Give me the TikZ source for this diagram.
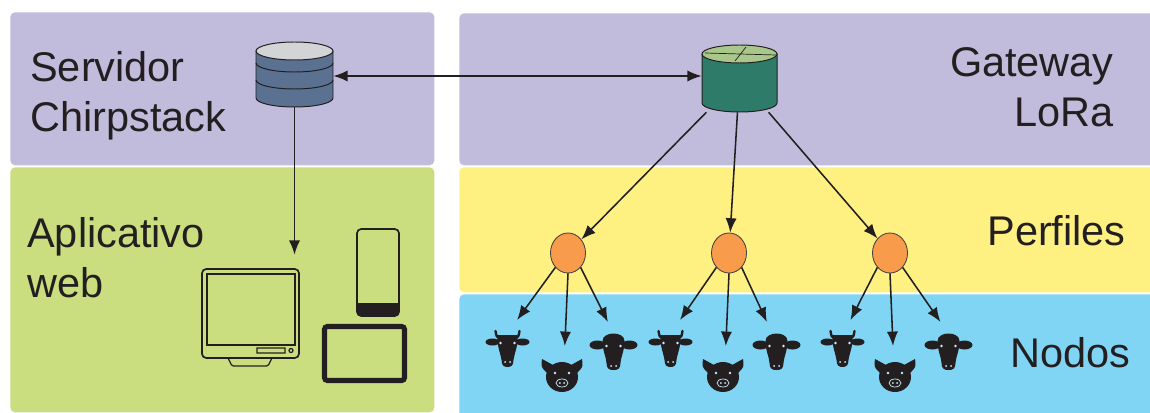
\documentclass[tikz,border=0pt]{standalone}
\usepackage{fontspec}
\setmainfont{Liberation Sans}
\usetikzlibrary{arrows.meta,positioning,shapes.geometric}

\definecolor{serverband}{HTML}{C1BCDC}
\definecolor{appband}{HTML}{CADE80}
\definecolor{profileband}{HTML}{FFF082}
\definecolor{nodeband}{HTML}{80D4F4}
\definecolor{inkblack}{HTML}{231F20}
\definecolor{dbsteel}{HTML}{5B7191}
\definecolor{dbtop}{HTML}{D3D4D6}
\definecolor{gwteal}{HTML}{2E7B69}
\definecolor{gwtop}{HTML}{A9C68B}
\definecolor{profileorange}{HTML}{F89B4B}

\begin{document}
\begin{tikzpicture}[
  x=0.025cm, y=-0.025cm,
  band/.style={
    anchor=north west,
    rounded corners=3.5pt,
    inner sep=0pt
  },
  band title/.style={
    inner sep=0pt,
    text=inkblack,
    font=\fontsize{29.5}{35.5}\selectfont
  },
  hub/.style={inner sep=0pt},
  profile/.style={
    ellipse,
    draw=inkblack!85,
    line width=0.6pt,
    fill=profileorange,
    inner sep=0pt,
    minimum width=0.875cm,
    minimum height=1cm
  },
  animal/.style={
    inner sep=0pt,
    minimum width=1cm,
    minimum height=0.9cm,
    outer sep=0.275cm
  },
  device/.style={draw=inkblack, line width=1.2pt},
  flow/.style={-{Latex[length=3.6mm,width=2.8mm]},line width=1.1pt,draw=inkblack},
  both flow/.style={flow,{Latex[length=3.6mm,width=2.8mm]}-{Latex[length=3.6mm,width=2.8mm]}},
  cow/.pic={
    \fill[inkblack] (-15,-7) ellipse[x radius=7, y radius=3.5]
      (15,-7) ellipse[x radius=7, y radius=3.5];
    \draw[inkblack, line width=1.7pt, line cap=round]
      (-7,-11) .. controls (-11,-12) .. (-12,-18)
      (7,-11) .. controls (11,-12) .. (12,-18);
    \fill[inkblack] (-10,-14) -- (10,-14) .. controls (11,-4) and (7,4) .. (6,11)
      .. controls (6,17) and (3,18) .. (0,18) .. controls (-3,18) and (-6,17) .. (-6,11)
      .. controls (-7,4) and (-11,-4) .. cycle;
    \fill[nodeband!40!white] (-7,-6) circle[radius=1.3] (7,-6) circle[radius=1.3]
      (-2.5,13) circle[radius=1] (2.5,13) circle[radius=1];
  },
  pig/.pic={
    \fill[inkblack] (-9,-10) -- (-20,-16) .. controls (-21,-8) .. (-15,-2) -- cycle
      (9,-10) -- (20,-16) .. controls (21,-8) .. (15,-2) -- cycle;
    \fill[inkblack] (0,2) ellipse[x radius=16, y radius=15];
    \draw[nodeband!40!white, line width=0.5pt] (0,8) ellipse[x radius=6, y radius=4];
    \fill[nodeband!40!white] (-7,-2) circle[radius=1.3] (7,-2) circle[radius=1.3]
      (-2.2,8) circle[radius=1] (2.2,8) circle[radius=1];
  },
  calf/.pic={
    \fill[inkblack] (-16,-6) ellipse[x radius=8, y radius=4.5]
      (16,-6) ellipse[x radius=8, y radius=4.5];
    \fill[inkblack] (-11,-10) .. controls (-11,-20) and (11,-20) .. (11,-10)
      .. controls (11,0) and (7,7) .. (7,12) .. controls (7,18) and (4,19) .. (0,19)
      .. controls (-4,19) and (-7,18) .. (-7,12) .. controls (-7,7) and (-11,0) .. cycle;
    \fill[nodeband!40!white] (-7,-5) circle[radius=1.3] (7,-5) circle[radius=1.3]
      (-2.5,15) circle[radius=1] (2.5,15) circle[radius=1];
  }
]
  \clip (0,0) rectangle (1150,413);
  \fill[white] (0,0) rectangle (1150,413);

  % background bands
  \node[band,fill=serverband,minimum width=10.6cm,minimum height=3.825cm] (server-band) at (10,12) {};
  \node[band,fill=appband,minimum width=10.6cm,minimum height=6.125cm] (app-band) at (10,167) {};
  \node[band,fill=serverband,minimum width=17.6cm,minimum height=3.8cm] (gateway-band) at (459,13) {};
  \node[band,fill=profileband,minimum width=17.6cm,minimum height=3.125cm] (profile-band) at (459,167) {};
  \node[band,fill=nodeband,minimum width=17.6cm,minimum height=3.4cm] (node-band) at (459,294) {};

  \node[band title,anchor=north west,align=left] (server-title) at (30,51) {Servidor\\Chirpstack};
  \node[band title,anchor=north west,align=left] (app-title) at (27,217) {Aplicativo\\web};
  \node[band title,anchor=north east,align=right] (gateway-title) at (1114,47) {Gateway\\LoRa};
  \node[band title,anchor=north east] (profile-title) at (1126,215) {Perfiles};
  \node[band title,anchor=north east] (node-title) at (1131,337) {Nodos};

  % server database
  \node[hub,minimum width=1.925cm,minimum height=1.55cm] (server-db) at (294.5,76) {};
  \filldraw[fill=dbsteel,draw=inkblack,line width=0.7pt] (256,51) -- (256,98)
    arc[start angle=180,end angle=0,x radius=38.5,y radius=9] -- (333,51) -- cycle;
  \draw[inkblack,line width=0.7pt] (256,63) arc[start angle=180,end angle=0,x radius=38.5,y radius=9];
  \draw[inkblack,line width=0.7pt] (256,80) arc[start angle=180,end angle=0,x radius=38.5,y radius=9];
  \filldraw[fill=dbtop,draw=inkblack,line width=0.7pt] (294.5,51) ellipse[x radius=38.5,y radius=9];

  % gateway
  \node[hub,minimum width=1.875cm,minimum height=1.675cm] (gateway) at (739.5,78.5) {};
  \filldraw[fill=gwteal,draw=inkblack,line width=0.7pt] (702,54) -- (702,103)
    arc[start angle=180,end angle=0,x radius=37.5,y radius=9] -- (777,54) -- cycle;
  \filldraw[fill=gwtop,draw=inkblack,line width=0.7pt] (739.5,54) ellipse[x radius=37.5,y radius=9];
  \draw[inkblack,line width=0.5pt] (705,53) -- (776,55) (735,61) -- (746,47);

  % devices
  \node[hub,minimum width=2.425cm,minimum height=2.425cm] (monitor) at (250.5,317.5) {};
  \draw[device,rounded corners=3pt] (202,269) rectangle (299,358);
  \draw[device] (207,274) rectangle (295,345);
  \draw[device,line width=0.9pt] (257,348) rectangle (285,353) (291,350.5) circle[radius=2];
  \draw[device,line width=0.9pt,rounded corners=1pt] (228,358) -- (232,366) -- (268,366) -- (272,358);

  \node[hub,minimum width=1.05cm,minimum height=2.175cm] (phone) at (378,272.5) {};
  \begin{scope}
    \clip[rounded corners=3pt] (357,229) rectangle (399,316);
    \fill[inkblack] (357,303) rectangle (399,316);
  \end{scope}
  \draw[device,rounded corners=3pt] (357,229) rectangle (399,316);

  \node[hub,minimum width=2.125cm,minimum height=1.475cm] (tablet) at (364.5,353.5) {};
  \draw[device,line width=3.6pt,rounded corners=2pt] (324.5,326.5) rectangle (404.5,380.5);

  % profiles and nodes
  \node[profile] (profile-1) at (568,253) {};
  \node[profile] (profile-2) at (729,253) {};
  \node[profile] (profile-3) at (890,253) {};

  \node[animal] (cow-1) at (507.5,349) {};
  \node[animal] (pig-1) at (562,375) {};
  \node[animal] (calf-1) at (613.5,351) {};
  \node[animal] (cow-2) at (670.5,349) {};
  \node[animal] (pig-2) at (723,375) {};
  \node[animal] (calf-2) at (776.5,351) {};
  \node[animal] (cow-3) at (842.5,349) {};
  \node[animal] (pig-3) at (895,375) {};
  \node[animal] (calf-3) at (948.5,351) {};
  \pic at (cow-1) {cow};
  \pic at (pig-1) {pig};
  \pic at (calf-1) {calf};
  \pic at (cow-2) {cow};
  \pic at (pig-2) {pig};
  \pic at (calf-2) {calf};
  \pic at (cow-3) {cow};
  \pic at (pig-3) {pig};
  \pic at (calf-3) {calf};

  % connectors
  \draw[both flow] (server-db.east) -- (server-db.east -| gateway.west);
  \draw[flow,shorten >=0.35cm] (server-db) -- (server-db |- monitor.north);
  \draw[flow] (gateway) -- (profile-1);
  \draw[flow] (gateway) -- (profile-2);
  \draw[flow] (gateway) -- (profile-3);

  \draw[flow] (profile-1.south west) -- ([xshift=0.24cm]cow-1.north);
  \draw[flow] (profile-1.south) -- ([xshift=0.07cm]pig-1.north);
  \draw[flow] (profile-1.south east) -- ([xshift=-0.14cm]calf-1.north);
  \draw[flow] (profile-2.south west) -- ([xshift=0.24cm]cow-2.north);
  \draw[flow] (profile-2.south) -- ([xshift=0.07cm]pig-2.north);
  \draw[flow] (profile-2.south east) -- ([xshift=-0.24cm]calf-2.north);
  \draw[flow] (profile-3.south west) -- ([xshift=0.2cm]cow-3.north);
  \draw[flow] (profile-3.south) -- ([xshift=-0.05cm]pig-3.north);
  \draw[flow] (profile-3.south east) -- ([xshift=-0.2cm]calf-3.north);
\end{tikzpicture}
\end{document}
